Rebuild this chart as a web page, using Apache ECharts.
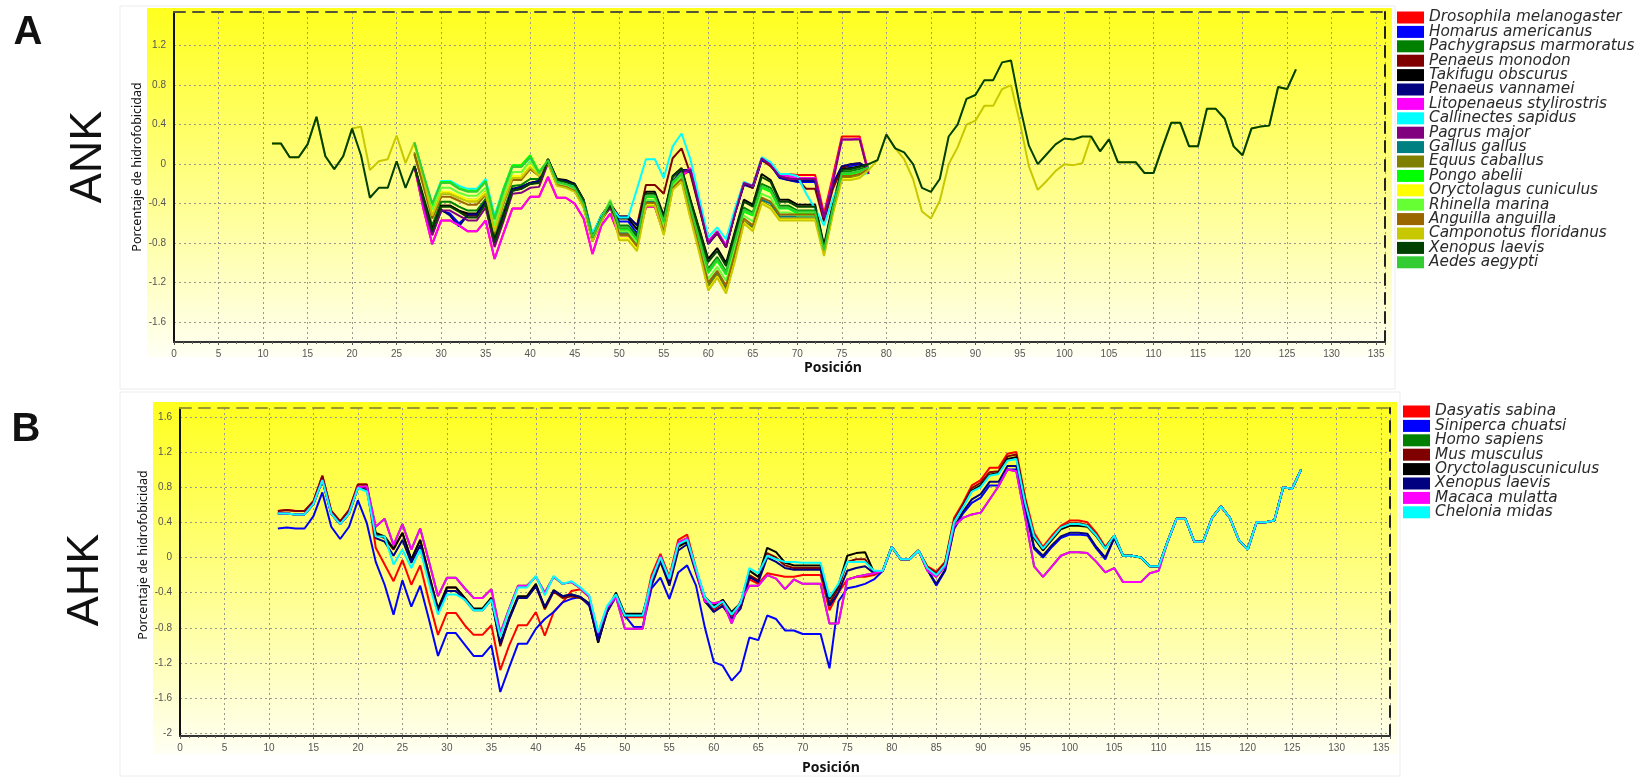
<!DOCTYPE html>
<html>
<head>
<meta charset="utf-8">
<script src="https://cdn.jsdelivr.net/npm/echarts@6/dist/echarts.min.js"></script>
<style>
  html, body { margin: 0; padding: 0; background: #ffffff; }
  #chart { width: 1638px; height: 778px; }
</style>
</head>
<body>
<div id="chart"></div>
<script>
// ---------- Axis ticks ----------
const xTickInterval = 5;
const ankYTicks = [-1.6, -1.2, -0.8, -0.4, 0, 0.4, 0.8, 1.2];
const ahkYTicks = [-2, -1.6, -1.2, -0.8, -0.4, 0, 0.4, 0.8, 1.2, 1.6];

// ---------- Panel A: ANK ----------
const ankSpecies = [
  'Drosophila melanogaster', 'Homarus americanus', 'Pachygrapsus marmoratus', 'Penaeus monodon',
  'Takifugu obscurus', 'Penaeus vannamei', 'Litopenaeus stylirostris', 'Callinectes sapidus',
  'Pagrus major', 'Gallus gallus', 'Equus caballus', 'Pongo abelii', 'Oryctolagus cuniculus',
  'Rhinella marina', 'Anguilla anguilla', 'Camponotus floridanus', 'Xenopus laevis', 'Aedes aegypti'
];
const ankColors = [
  '#ff0000', '#0000ff', '#008000', '#800000', '#000000', '#000080', '#ff00ff', '#00ffff',
  '#800080', '#008080', '#808000', '#00ff00', '#ffff00', '#66ff33', '#996600', '#c8c800', '#004000', '#33cc33'
];
// first position of each ANK profile
const ankStarts = [27, 27, 27, 27, 27, 27, 27, 27, 27, 27, 27, 27, 27, 27, 27, 11, 11, 27];

const ankDrosophila = [
  -0.02, -0.45, -0.81, -0.57, -0.57, -0.62, -0.68, -0.68, -0.57, -0.96,
  -0.70, -0.45, -0.45, -0.33, -0.33, -0.13, -0.34, -0.34, -0.40, -0.55,
  -0.91, -0.62, -0.50, -0.72, -0.72, -0.80, -0.43, -0.43, -0.70, -0.22,
  -0.12, -0.06, -0.42, -0.80, -0.70, -0.84, -0.50, -0.20, -0.24, 0.04,
  -0.02, -0.10, -0.10, -0.11, -0.11, -0.11, -0.50, -0.12, 0.28, 0.28,
  0.28, -0.08
];
const ankHomarus = [
  -0.02, -0.37, -0.71, -0.47, -0.50, -0.60, -0.52, -0.52, -0.39, -0.81,
  -0.55, -0.27, -0.25, -0.20, -0.18, 0.03, -0.17, -0.18, -0.22, -0.39,
  -0.76, -0.55, -0.44, -0.58, -0.58, -0.70, -0.40, -0.40, -0.64, -0.19,
  -0.07, -0.08, -0.44, -0.81, -0.70, -0.84, -0.50, -0.21, -0.24, 0.04,
  -0.01, -0.14, -0.16, -0.18, -0.18, -0.18, -0.57, -0.21, -0.03, -0.02,
  0.00, -0.05
];
const ankPachygrapsus = [
  -0.02, -0.32, -0.62, -0.38, -0.38, -0.43, -0.47, -0.47, -0.35, -0.73,
  -0.48, -0.22, -0.21, -0.15, -0.15, 0.05, -0.17, -0.19, -0.23, -0.38,
  -0.73, -0.53, -0.38, -0.62, -0.62, -0.72, -0.33, -0.33, -0.60, -0.17,
  -0.08, -0.40, -0.72, -1.06, -0.94, -1.09, -0.76, -0.44, -0.49, -0.20,
  -0.24, -0.42, -0.42, -0.47, -0.47, -0.47, -0.86, -0.45, -0.08, -0.07,
  -0.05, -0.02
];
const ankPenaeusMonodon = [
  -0.02, -0.35, -0.66, -0.42, -0.42, -0.47, -0.52, -0.52, -0.40, -0.78,
  -0.52, -0.26, -0.24, -0.19, -0.18, 0.05, -0.15, -0.17, -0.20, -0.36,
  -0.72, -0.52, -0.40, -0.53, -0.53, -0.62, -0.21, -0.21, -0.30, 0.06,
  0.16, -0.10, -0.45, -0.80, -0.70, -0.84, -0.50, -0.20, -0.24, 0.05,
  -0.02, -0.12, -0.14, -0.15, -0.25, -0.25, -0.58, -0.25, -0.04, 0.00,
  0.01, -0.05
];
const ankTakifugu = [
  -0.02, -0.34, -0.66, -0.42, -0.42, -0.47, -0.50, -0.50, -0.38, -0.77,
  -0.52, -0.25, -0.23, -0.19, -0.17, 0.05, -0.15, -0.16, -0.20, -0.36,
  -0.72, -0.52, -0.40, -0.55, -0.55, -0.66, -0.28, -0.28, -0.52, -0.12,
  -0.04, -0.36, -0.66, -0.96, -0.85, -1.00, -0.68, -0.36, -0.41, -0.10,
  -0.16, -0.36, -0.36, -0.41, -0.41, -0.41, -0.82, -0.40, -0.05, -0.04,
  -0.02, 0.00
];
const ankPenaeusVannamei = [
  -0.02, -0.36, -0.70, -0.46, -0.52, -0.63, -0.51, -0.51, -0.38, -0.80,
  -0.54, -0.25, -0.23, -0.19, -0.17, 0.04, -0.16, -0.17, -0.21, -0.38,
  -0.74, -0.53, -0.43, -0.53, -0.53, -0.62, -0.38, -0.38, -0.62, -0.18,
  -0.06, -0.06, -0.43, -0.79, -0.68, -0.83, -0.49, -0.20, -0.23, 0.05,
  0.00, -0.13, -0.16, -0.17, -0.17, -0.17, -0.55, -0.20, -0.02, 0.00,
  0.01, -0.04
];
const ankLitopenaeus = [
  -0.02, -0.45, -0.81, -0.57, -0.57, -0.62, -0.68, -0.68, -0.57, -0.96,
  -0.70, -0.45, -0.45, -0.33, -0.33, -0.13, -0.34, -0.34, -0.40, -0.55,
  -0.91, -0.62, -0.50, -0.72, -0.72, -0.80, -0.43, -0.43, -0.70, -0.22,
  -0.12, -0.04, -0.40, -0.78, -0.68, -0.82, -0.48, -0.18, -0.22, 0.06,
  0.00, -0.11, -0.12, -0.14, -0.14, -0.14, -0.54, -0.15, 0.25, 0.25,
  0.26, -0.10
];
const ankCallinectes = [
  0.22, -0.10, -0.40, -0.17, -0.17, -0.22, -0.25, -0.25, -0.15, -0.52,
  -0.25, -0.02, -0.02, 0.06, -0.08, 0.03, -0.17, -0.19, -0.22, -0.37,
  -0.70, -0.52, -0.42, -0.54, -0.54, -0.25, 0.05, 0.05, -0.14, 0.18,
  0.31, 0.05, -0.35, -0.74, -0.64, -0.76, -0.45, -0.18, -0.22, 0.07,
  0.02, -0.10, -0.10, -0.12, -0.30, -0.45, -0.62, -0.35, -0.15, -0.15,
  -0.13, -0.08
];
const ankPagrus = [
  -0.02, -0.38, -0.72, -0.47, -0.47, -0.52, -0.57, -0.57, -0.44, -0.84,
  -0.58, -0.30, -0.29, -0.24, -0.23, 0.01, -0.20, -0.21, -0.25, -0.40,
  -0.78, -0.56, -0.44, -0.68, -0.68, -0.80, -0.42, -0.42, -0.66, -0.20,
  -0.08, -0.06, -0.42, -0.80, -0.69, -0.84, -0.50, -0.19, -0.22, 0.06,
  -0.01, -0.12, -0.15, -0.15, -0.15, -0.15, -0.54, -0.18, 0.25, 0.25,
  0.25, -0.10
];
const ankGallus = [
  0.10, -0.20, -0.50, -0.30, -0.30, -0.34, -0.37, -0.37, -0.28, -0.66,
  -0.36, -0.12, -0.12, -0.02, -0.11, 0.03, -0.21, -0.23, -0.27, -0.43,
  -0.77, -0.57, -0.40, -0.70, -0.70, -0.82, -0.38, -0.38, -0.68, -0.24,
  -0.15, -0.52, -0.86, -1.22, -1.10, -1.26, -0.93, -0.58, -0.64, -0.36,
  -0.40, -0.53, -0.53, -0.53, -0.53, -0.53, -0.90, -0.48, -0.13, -0.13,
  -0.11, -0.05
];
const ankEquus = [
  0.12, -0.18, -0.50, -0.29, -0.29, -0.33, -0.36, -0.36, -0.28, -0.65,
  -0.37, -0.12, -0.12, -0.02, -0.10, 0.03, -0.20, -0.22, -0.26, -0.42,
  -0.76, -0.56, -0.39, -0.72, -0.72, -0.84, -0.40, -0.40, -0.70, -0.25,
  -0.16, -0.53, -0.88, -1.24, -1.12, -1.28, -0.95, -0.58, -0.66, -0.38,
  -0.43, -0.55, -0.55, -0.55, -0.55, -0.55, -0.91, -0.49, -0.14, -0.14,
  -0.12, -0.05
];
const ankPongo = [
  0.22, -0.10, -0.42, -0.18, -0.18, -0.24, -0.27, -0.27, -0.17, -0.55,
  -0.25, -0.01, -0.01, 0.09, -0.08, 0.04, -0.18, -0.20, -0.24, -0.40,
  -0.76, -0.56, -0.40, -0.66, -0.66, -0.78, -0.33, -0.33, -0.60, -0.20,
  -0.10, -0.45, -0.78, -1.10, -0.98, -1.12, -0.80, -0.48, -0.52, -0.24,
  -0.28, -0.45, -0.45, -0.50, -0.50, -0.50, -0.88, -0.45, -0.10, -0.10,
  -0.08, -0.04
];
const ankOryctolagus = [
  0.20, -0.14, -0.50, -0.28, -0.28, -0.32, -0.36, -0.36, -0.28, -0.66,
  -0.36, -0.12, -0.12, -0.01, -0.11, 0.02, -0.21, -0.23, -0.27, -0.43,
  -0.77, -0.57, -0.37, -0.75, -0.75, -0.86, -0.41, -0.41, -0.71, -0.25,
  -0.17, -0.54, -0.89, -1.27, -1.14, -1.30, -0.97, -0.59, -0.67, -0.39,
  -0.44, -0.56, -0.56, -0.56, -0.56, -0.56, -0.92, -0.50, -0.15, -0.15,
  -0.13, -0.06
];
const ankRhinella = [
  0.22, -0.12, -0.46, -0.24, -0.24, -0.29, -0.32, -0.32, -0.24, -0.62,
  -0.32, -0.08, -0.08, 0.03, -0.10, 0.03, -0.19, -0.21, -0.25, -0.41,
  -0.74, -0.55, -0.36, -0.68, -0.68, -0.80, -0.36, -0.36, -0.64, -0.22,
  -0.13, -0.48, -0.82, -1.16, -1.04, -1.18, -0.86, -0.52, -0.58, -0.30,
  -0.34, -0.49, -0.49, -0.52, -0.52, -0.52, -0.88, -0.46, -0.12, -0.12,
  -0.10, -0.04
];
const ankAnguilla = [
  0.10, -0.22, -0.55, -0.33, -0.33, -0.37, -0.41, -0.41, -0.31, -0.70,
  -0.40, -0.16, -0.16, -0.05, -0.12, 0.02, -0.21, -0.23, -0.27, -0.43,
  -0.78, -0.58, -0.41, -0.71, -0.71, -0.83, -0.39, -0.39, -0.69, -0.24,
  -0.15, -0.50, -0.85, -1.20, -1.08, -1.23, -0.90, -0.55, -0.62, -0.34,
  -0.38, -0.51, -0.51, -0.51, -0.51, -0.51, -0.89, -0.47, -0.12, -0.12,
  -0.10, -0.05
];
const ankCamponotus = [
  0.21, 0.21, 0.07, 0.07, 0.20, 0.48, 0.08, -0.05, 0.08, 0.36,
  0.38, -0.06, 0.03, 0.05, 0.29, 0.01, 0.22, -0.15, -0.52, -0.30,
  -0.30, -0.34, -0.38, -0.38, -0.30, -0.68, -0.38, -0.14, -0.14, -0.03,
  -0.12, 0.02, -0.22, -0.24, -0.28, -0.44, -0.78, -0.58, -0.38, -0.77,
  -0.77, -0.88, -0.42, -0.42, -0.72, -0.26, -0.18, -0.55, -0.90, -1.28,
  -1.15, -1.31, -0.98, -0.60, -0.68, -0.40, -0.45, -0.57, -0.57, -0.57,
  -0.57, -0.57, -0.93, -0.50, -0.16, -0.16, -0.14, -0.06, 0.04, 0.30,
  0.16, 0.05, -0.15, -0.48, -0.55, -0.37, 0.00, 0.17, 0.40, 0.44,
  0.59, 0.59, 0.76, 0.80, 0.42, -0.02, -0.26, -0.17, -0.07, 0.00,
  -0.01, 0.01, 0.28, 0.13, 0.25, 0.02, 0.02, 0.02, -0.09, -0.09,
  0.17, 0.42, 0.42, 0.18, 0.18, 0.56, 0.56, 0.46, 0.18, 0.09,
  0.36, 0.38, 0.39, 0.78, 0.76, 0.96
];
const ankXenopus = [
  0.21, 0.21, 0.07, 0.07, 0.20, 0.48, 0.08, -0.05, 0.08, 0.36,
  0.09, -0.34, -0.24, -0.24, 0.03, -0.24, -0.02, -0.35, -0.68, -0.43,
  -0.43, -0.48, -0.54, -0.54, -0.40, -0.79, -0.55, -0.27, -0.25, -0.20,
  -0.19, 0.04, -0.16, -0.18, -0.21, -0.37, -0.74, -0.54, -0.42, -0.64,
  -0.64, -0.74, -0.30, -0.30, -0.54, -0.13, -0.05, -0.37, -0.67, -0.99,
  -0.88, -1.03, -0.70, -0.38, -0.43, -0.13, -0.18, -0.38, -0.38, -0.43,
  -0.43, -0.43, -0.84, -0.43, -0.06, -0.05, -0.03, 0.00, 0.04, 0.30,
  0.16, 0.12, 0.00, -0.24, -0.28, -0.15, 0.28, 0.40, 0.66, 0.70,
  0.85, 0.85, 1.03, 1.05, 0.59, 0.19, 0.00, 0.10, 0.20, 0.26,
  0.25, 0.28, 0.28, 0.13, 0.25, 0.02, 0.02, 0.02, -0.09, -0.09,
  0.17, 0.42, 0.42, 0.18, 0.18, 0.56, 0.56, 0.46, 0.18, 0.09,
  0.36, 0.38, 0.39, 0.78, 0.76, 0.96
];
const ankAedes = [
  0.22, -0.10, -0.40, -0.19, -0.19, -0.25, -0.28, -0.28, -0.18, -0.56,
  -0.27, -0.03, -0.03, 0.07, -0.09, 0.04, -0.18, -0.20, -0.24, -0.40,
  -0.74, -0.55, -0.38, -0.64, -0.64, -0.76, -0.32, -0.32, -0.58, -0.18,
  -0.09, -0.44, -0.76, -1.08, -0.96, -1.10, -0.78, -0.46, -0.50, -0.22,
  -0.26, -0.44, -0.44, -0.48, -0.48, -0.48, -0.87, -0.44, -0.09, -0.09,
  -0.07, -0.03
];
const ankValues = [
  ankDrosophila, ankHomarus, ankPachygrapsus, ankPenaeusMonodon, ankTakifugu, ankPenaeusVannamei,
  ankLitopenaeus, ankCallinectes, ankPagrus, ankGallus, ankEquus, ankPongo, ankOryctolagus,
  ankRhinella, ankAnguilla, ankCamponotus, ankXenopus, ankAedes
];

// ---------- Panel B: AHK (positions 11..126) ----------
const ahkStart = 11;
const ahkSpecies = [
  'Dasyatis sabina', 'Siniperca chuatsi', 'Homo sapiens', 'Mus musculus',
  'Oryctolaguscuniculus', 'Xenopus laevis', 'Macaca mulatta', 'Chelonia midas'
];
const ahkColors = ['#ff0000', '#0000ff', '#008000', '#800000', '#000000', '#000080', '#ff00ff', '#00ffff'];

const ahkDasyatis = [
  0.53, 0.54, 0.53, 0.53, 0.64, 0.93, 0.53, 0.41, 0.54, 0.83,
  0.83, 0.11, -0.08, -0.27, -0.03, -0.31, -0.09, -0.50, -0.88, -0.63,
  -0.63, -0.77, -0.88, -0.88, -0.77, -1.28, -1.00, -0.77, -0.77, -0.62,
  -0.89, -0.62, -0.51, -0.38, -0.36, -0.45, -0.90, -0.60, -0.45, -0.68,
  -0.68, -0.68, -0.20, 0.04, -0.22, 0.20, 0.26, -0.12, -0.50, -0.60,
  -0.55, -0.68, -0.58, -0.25, -0.30, -0.18, -0.20, -0.22, -0.22, -0.20,
  -0.20, -0.20, -0.60, -0.40, -0.25, -0.22, -0.22, -0.20, -0.15, 0.12,
  -0.02, -0.02, 0.08, -0.10, -0.16, -0.05, 0.45, 0.62, 0.82, 0.88,
  1.02, 1.02, 1.18, 1.20, 0.68, 0.28, 0.12, 0.25, 0.36, 0.42,
  0.42, 0.40, 0.28, 0.12, 0.25, 0.02, 0.02, 0.00, -0.10, -0.10,
  0.18, 0.44, 0.44, 0.18, 0.18, 0.45, 0.58, 0.45, 0.20, 0.09,
  0.40, 0.40, 0.42, 0.80, 0.78, 1.00
];
const ahkSiniperca = [
  0.33, 0.34, 0.33, 0.33, 0.47, 0.74, 0.35, 0.21, 0.35, 0.65,
  0.39, -0.05, -0.31, -0.65, -0.26, -0.56, -0.32, -0.71, -1.12, -0.86,
  -0.86, -0.99, -1.12, -1.12, -1.00, -1.53, -1.25, -0.98, -0.98, -0.81,
  -0.70, -0.62, -0.51, -0.47, -0.45, -0.55, -0.90, -0.62, -0.45, -0.66,
  -0.79, -0.79, -0.35, -0.23, -0.47, -0.17, -0.09, -0.32, -0.80, -1.19,
  -1.23, -1.40, -1.29, -0.91, -0.94, -0.66, -0.70, -0.83, -0.83, -0.87,
  -0.87, -0.87, -1.26, -0.50, -0.35, -0.33, -0.30, -0.25, -0.15, 0.12,
  -0.02, -0.02, 0.08, -0.14, -0.32, -0.15, 0.32, 0.50, 0.62, 0.68,
  0.82, 0.82, 1.00, 1.00, 0.55, 0.10, 0.00, 0.12, 0.22, 0.26,
  0.26, 0.25, 0.10, -0.02, 0.22, 0.02, 0.02, 0.00, -0.10, -0.10,
  0.18, 0.44, 0.44, 0.18, 0.18, 0.45, 0.58, 0.45, 0.20, 0.09,
  0.40, 0.40, 0.42, 0.80, 0.78, 1.00
];
const ahkHomo = [
  0.50, 0.50, 0.49, 0.49, 0.61, 0.88, 0.50, 0.38, 0.50, 0.80,
  0.81, 0.35, 0.44, 0.14, 0.38, 0.09, 0.33, -0.05, -0.44, -0.23,
  -0.23, -0.35, -0.46, -0.46, -0.36, -0.86, -0.58, -0.32, -0.32, -0.22,
  -0.40, -0.22, -0.30, -0.28, -0.35, -0.45, -0.86, -0.57, -0.45, -0.81,
  -0.81, -0.81, -0.25, 0.02, -0.25, 0.17, 0.22, -0.15, -0.50, -0.52,
  -0.50, -0.75, -0.50, -0.32, -0.32, -0.20, -0.24, -0.36, -0.25, -0.30,
  -0.30, -0.30, -0.75, -0.75, -0.25, -0.22, -0.20, -0.18, -0.15, 0.12,
  -0.02, -0.02, 0.08, -0.15, -0.22, -0.10, 0.36, 0.45, 0.49, 0.51,
  0.66, 0.81, 1.00, 0.98, 0.45, -0.10, -0.22, -0.10, 0.02, 0.06,
  0.06, 0.05, -0.05, -0.17, -0.12, -0.28, -0.28, -0.28, -0.18, -0.15,
  0.18, 0.44, 0.44, 0.18, 0.18, 0.45, 0.58, 0.45, 0.20, 0.09,
  0.40, 0.40, 0.42, 0.80, 0.78, 1.00
];
const ahkMus = [
  0.53, 0.54, 0.53, 0.53, 0.64, 0.93, 0.53, 0.41, 0.54, 0.83,
  0.83, 0.26, 0.22, 0.09, 0.28, -0.03, 0.20, -0.20, -0.60, -0.34,
  -0.34, -0.46, -0.59, -0.59, -0.46, -1.01, -0.70, -0.45, -0.45, -0.32,
  -0.59, -0.39, -0.46, -0.44, -0.46, -0.53, -0.96, -0.62, -0.42, -0.66,
  -0.66, -0.66, -0.28, 0.00, -0.26, 0.14, 0.20, -0.15, -0.48, -0.58,
  -0.52, -0.66, -0.55, -0.20, -0.26, 0.05, 0.00, -0.09, -0.12, -0.12,
  -0.12, -0.12, -0.52, -0.35, -0.05, -0.02, -0.02, -0.17, -0.15, 0.12,
  -0.02, -0.02, 0.08, -0.11, -0.18, -0.06, 0.42, 0.60, 0.79, 0.85,
  0.97, 0.98, 1.15, 1.17, 0.65, 0.24, 0.10, 0.22, 0.34, 0.39,
  0.39, 0.37, 0.26, 0.11, 0.25, 0.02, 0.02, 0.00, -0.10, -0.10,
  0.18, 0.44, 0.44, 0.18, 0.18, 0.45, 0.58, 0.45, 0.20, 0.09,
  0.40, 0.40, 0.42, 0.80, 0.78, 1.00
];
const ahkOryctolagus = [
  0.50, 0.50, 0.49, 0.49, 0.61, 0.88, 0.50, 0.38, 0.50, 0.79,
  0.80, 0.28, 0.24, 0.10, 0.28, -0.02, 0.20, -0.20, -0.58, -0.34,
  -0.34, -0.46, -0.58, -0.58, -0.46, -0.98, -0.68, -0.44, -0.44, -0.30,
  -0.57, -0.37, -0.44, -0.42, -0.45, -0.52, -0.97, -0.60, -0.40, -0.64,
  -0.64, -0.64, -0.30, -0.02, -0.28, 0.12, 0.18, -0.15, -0.45, -0.55,
  -0.48, -0.62, -0.52, -0.15, -0.22, 0.11, 0.06, -0.06, -0.09, -0.09,
  -0.09, -0.09, -0.47, -0.32, 0.02, 0.05, 0.06, -0.17, -0.15, 0.12,
  -0.02, -0.02, 0.08, -0.12, -0.20, -0.08, 0.40, 0.58, 0.76, 0.82,
  0.94, 0.96, 1.12, 1.14, 0.62, 0.22, 0.08, 0.20, 0.32, 0.36,
  0.36, 0.35, 0.24, 0.10, 0.25, 0.02, 0.02, 0.00, -0.10, -0.10,
  0.18, 0.44, 0.44, 0.18, 0.18, 0.45, 0.58, 0.45, 0.20, 0.09,
  0.40, 0.40, 0.42, 0.80, 0.78, 1.00
];
const ahkXenopus = [
  0.50, 0.50, 0.49, 0.49, 0.61, 0.88, 0.50, 0.38, 0.50, 0.79,
  0.77, 0.22, 0.18, 0.02, 0.20, -0.06, 0.14, -0.25, -0.62, -0.38,
  -0.38, -0.48, -0.60, -0.60, -0.48, -0.98, -0.70, -0.46, -0.46, -0.33,
  -0.56, -0.38, -0.44, -0.42, -0.45, -0.53, -0.95, -0.62, -0.42, -0.66,
  -0.66, -0.66, -0.32, -0.05, -0.32, 0.08, 0.15, -0.18, -0.50, -0.62,
  -0.55, -0.70, -0.58, -0.22, -0.28, 0.00, -0.05, -0.12, -0.14, -0.14,
  -0.14, -0.14, -0.55, -0.40, -0.15, -0.12, -0.10, -0.18, -0.15, 0.12,
  -0.02, -0.02, 0.08, -0.14, -0.30, -0.14, 0.34, 0.52, 0.66, 0.72,
  0.86, 0.86, 1.04, 1.04, 0.57, 0.12, 0.02, 0.14, 0.24, 0.28,
  0.28, 0.27, 0.12, 0.00, 0.22, 0.02, 0.02, 0.00, -0.10, -0.10,
  0.18, 0.44, 0.44, 0.18, 0.18, 0.45, 0.58, 0.45, 0.20, 0.09,
  0.40, 0.40, 0.42, 0.80, 0.78, 1.00
];
const ahkMacaca = [
  0.50, 0.50, 0.49, 0.49, 0.61, 0.88, 0.50, 0.38, 0.50, 0.80,
  0.81, 0.35, 0.44, 0.14, 0.38, 0.09, 0.33, -0.05, -0.44, -0.23,
  -0.23, -0.35, -0.46, -0.46, -0.36, -0.86, -0.58, -0.32, -0.32, -0.22,
  -0.40, -0.22, -0.30, -0.28, -0.35, -0.45, -0.86, -0.57, -0.45, -0.81,
  -0.81, -0.81, -0.25, 0.02, -0.25, 0.17, 0.22, -0.15, -0.50, -0.52,
  -0.50, -0.75, -0.50, -0.32, -0.32, -0.20, -0.24, -0.36, -0.25, -0.30,
  -0.30, -0.30, -0.75, -0.75, -0.25, -0.22, -0.20, -0.18, -0.15, 0.12,
  -0.02, -0.02, 0.08, -0.15, -0.22, -0.10, 0.36, 0.45, 0.49, 0.51,
  0.66, 0.81, 1.00, 0.98, 0.45, -0.10, -0.22, -0.10, 0.02, 0.06,
  0.06, 0.05, -0.05, -0.17, -0.12, -0.28, -0.28, -0.28, -0.18, -0.15,
  0.18, 0.44, 0.44, 0.18, 0.18, 0.45, 0.58, 0.45, 0.20, 0.09,
  0.40, 0.40, 0.42, 0.80, 0.78, 1.00
];
const ahkChelonia = [
  0.50, 0.50, 0.49, 0.49, 0.61, 0.88, 0.50, 0.38, 0.50, 0.79,
  0.75, 0.24, 0.24, -0.08, 0.09, -0.12, 0.09, -0.30, -0.65, -0.42,
  -0.42, -0.48, -0.60, -0.60, -0.48, -0.90, -0.60, -0.34, -0.34, -0.21,
  -0.43, -0.21, -0.30, -0.27, -0.34, -0.43, -0.85, -0.55, -0.42, -0.66,
  -0.66, -0.66, -0.25, 0.00, -0.24, 0.15, 0.20, -0.12, -0.45, -0.57,
  -0.50, -0.65, -0.52, -0.12, -0.18, 0.02, -0.02, -0.05, -0.05, -0.06,
  -0.06, -0.06, -0.45, -0.30, -0.05, -0.05, -0.05, -0.15, -0.15, 0.12,
  -0.02, -0.02, 0.08, -0.12, -0.20, -0.08, 0.40, 0.57, 0.75, 0.80,
  0.93, 0.95, 1.10, 1.12, 0.62, 0.24, 0.10, 0.22, 0.34, 0.38,
  0.38, 0.36, 0.25, 0.10, 0.25, 0.02, 0.02, 0.00, -0.10, -0.10,
  0.18, 0.44, 0.44, 0.18, 0.18, 0.45, 0.58, 0.45, 0.20, 0.09,
  0.40, 0.40, 0.42, 0.80, 0.78, 1.00
];
const ahkValues = [
  ahkDasyatis, ahkSiniperca, ahkHomo, ahkMus, ahkOryctolagus, ahkXenopus, ahkMacaca, ahkChelonia
];

// ---------- Chart ----------
const chart = echarts.init(document.getElementById('chart'), null, { renderer: 'canvas' });

const axisLabelFont = { color: '#555', fontSize: 10, fontFamily: 'Liberation Sans, Arial, sans-serif' };
const fmtY = v => String(Math.round(v * 10) / 10);
const fmtX = v => (v % xTickInterval === 0 ? String(v) : '');

function xMain(gridIndex) {
  return {
    type: 'value', gridIndex, min: 0, max: 136, interval: xTickInterval,
    axisLine: { show: true, onZero: false, lineStyle: { color: '#333', width: 2 } },
    axisTick: { show: true, length: 3, lineStyle: { color: '#555' } },
    minorTick: { show: true, splitNumber: 5, length: 2, lineStyle: { color: '#666' } },
    axisLabel: Object.assign({ margin: 7, formatter: fmtX, showMaxLabel: false }, axisLabelFont),
    splitLine: { show: true, lineStyle: { type: [2, 3], color: '#9a9a8a', width: 1 } }
  };
}
function xBorder(gridIndex, color) {
  return {
    type: 'value', gridIndex, position: 'top', min: 0, max: 136,
    axisLine: { show: true, onZero: false, lineStyle: { color, width: 2, type: [11, 8] } },
    axisTick: { show: false }, axisLabel: { show: false }, splitLine: { show: false }
  };
}
function yMain(gridIndex, min, max, ticks) {
  return {
    type: 'value', gridIndex, min, max,
    axisLine: { show: true, onZero: false, lineStyle: { color: '#111', width: 2 } },
    axisTick: { show: false, customValues: ticks },
    axisLabel: Object.assign({ margin: 8, formatter: fmtY, customValues: ticks }, axisLabelFont),
    splitLine: { show: true, lineStyle: { type: [2, 3], color: '#9a9a8a', width: 1 } }
  };
}
function yBorder(gridIndex, min, max) {
  return {
    type: 'value', gridIndex, position: 'right', min, max,
    axisLine: { show: true, onZero: false, lineStyle: { color: '#222', width: 2, type: [11, 8] } },
    axisTick: { show: false }, axisLabel: { show: false }, splitLine: { show: false }
  };
}

function lineSeries(name, color, start, values, axisIndex) {
  return {
    type: 'line', name,
    xAxisIndex: axisIndex, yAxisIndex: axisIndex,
    data: values.map((v, i) => [start + i, v]),
    showSymbol: false, symbol: 'none',
    lineStyle: { color, width: 2 },
    itemStyle: { color },
    emphasis: { disabled: true },
    z: 3
  };
}

const series = [];
ankSpecies.forEach((n, i) => series.push(lineSeries(n, ankColors[i], ankStarts[i], ankValues[i], 0)));
ahkSpecies.forEach((n, i) => series.push(lineSeries(n, ahkColors[i], ahkStart, ahkValues[i], 1)));

function panelBackground(x, y, w, h) {
  return {
    type: 'rect', z: -10, silent: true,
    shape: { x, y, width: w, height: h },
    style: {
      fill: new echarts.graphic.LinearGradient(0, 0, 0, 1, [
        { offset: 0, color: '#ffff1e' },
        { offset: 0.55, color: '#ffff90' },
        { offset: 1, color: '#fffff4' }
      ])
    }
  };
}
function plainText(text, x, y, size, weight, rotation, family) {
  return {
    type: 'text', x, y, rotation: rotation || 0, silent: true, z: 10,
    style: {
      text, fill: '#111', fontSize: size, fontWeight: weight || 'normal',
      fontFamily: family || 'Liberation Sans, Arial, sans-serif',
      align: 'center', verticalAlign: 'middle'
    }
  };
}

const legendText = {
  fontFamily: '"DejaVu Sans", Verdana, sans-serif', fontStyle: 'italic', fontSize: 15.3,
  color: '#2a2a2a', lineHeight: 13
};

const option = {
  backgroundColor: '#ffffff',
  animation: false,
  grid: [
    { left: 174, top: 12, width: 1211, height: 330 },
    { left: 180, top: 408, width: 1210, height: 328 }
  ],
  xAxis: [xMain(0), xMain(1), xBorder(0, '#55553a'), xBorder(1, '#9c9c2a')],
  yAxis: [
    yMain(0, -1.8, 1.54, ankYTicks),
    yMain(1, -2.03, 1.7, ahkYTicks),
    yBorder(0, -1.8, 1.54),
    yBorder(1, -2.03, 1.7)
  ],
  legend: [
    {
      orient: 'vertical', left: 1397, top: 10, itemWidth: 27, itemHeight: 12, itemGap: -0.6,
      icon: 'rect', selectedMode: false, padding: 0, textStyle: legendText,
      data: ankSpecies.map((n, i) => ({ name: n, itemStyle: { color: ankColors[i], borderWidth: 0 } }))
    },
    {
      orient: 'vertical', left: 1403, top: 404, itemWidth: 27, itemHeight: 12, itemGap: -0.6,
      icon: 'rect', selectedMode: false, padding: 0, textStyle: legendText,
      data: ahkSpecies.map((n, i) => ({ name: n, itemStyle: { color: ahkColors[i], borderWidth: 0 } }))
    }
  ],
  graphic: [
    { type: 'rect', z: -20, silent: true, shape: { x: 120, y: 6, width: 1275, height: 383 },
      style: { fill: 'none', stroke: '#ececec', lineWidth: 1 } },
    { type: 'rect', z: -20, silent: true, shape: { x: 120, y: 392, width: 1280, height: 384 },
      style: { fill: 'none', stroke: '#ececec', lineWidth: 1 } },
    panelBackground(147, 8, 1245, 349),
    panelBackground(153, 402, 1244, 352),
    plainText('A', 28, 33, 40, 'bold'),
    plainText('B', 26, 430, 40, 'bold'),
    plainText('ANK', 89, 157, 45, 'normal', Math.PI / 2),
    plainText('AHK', 86, 580, 45, 'normal', Math.PI / 2),
    plainText('Porcentaje de hidrofobicidad', 137, 167, 12.5, 'normal', Math.PI / 2, 'Noto Sans, sans-serif'),
    plainText('Porcentaje de hidrofobicidad', 143, 555, 12.5, 'normal', Math.PI / 2, 'Noto Sans, sans-serif'),
    plainText('Posición', 833, 368, 14, 'bold', 0, 'Open Sans, sans-serif'),
    plainText('Posición', 831, 768, 14, 'bold', 0, 'Open Sans, sans-serif')
  ],
  series
};

chart.setOption(option);
</script>
</body>
</html>
